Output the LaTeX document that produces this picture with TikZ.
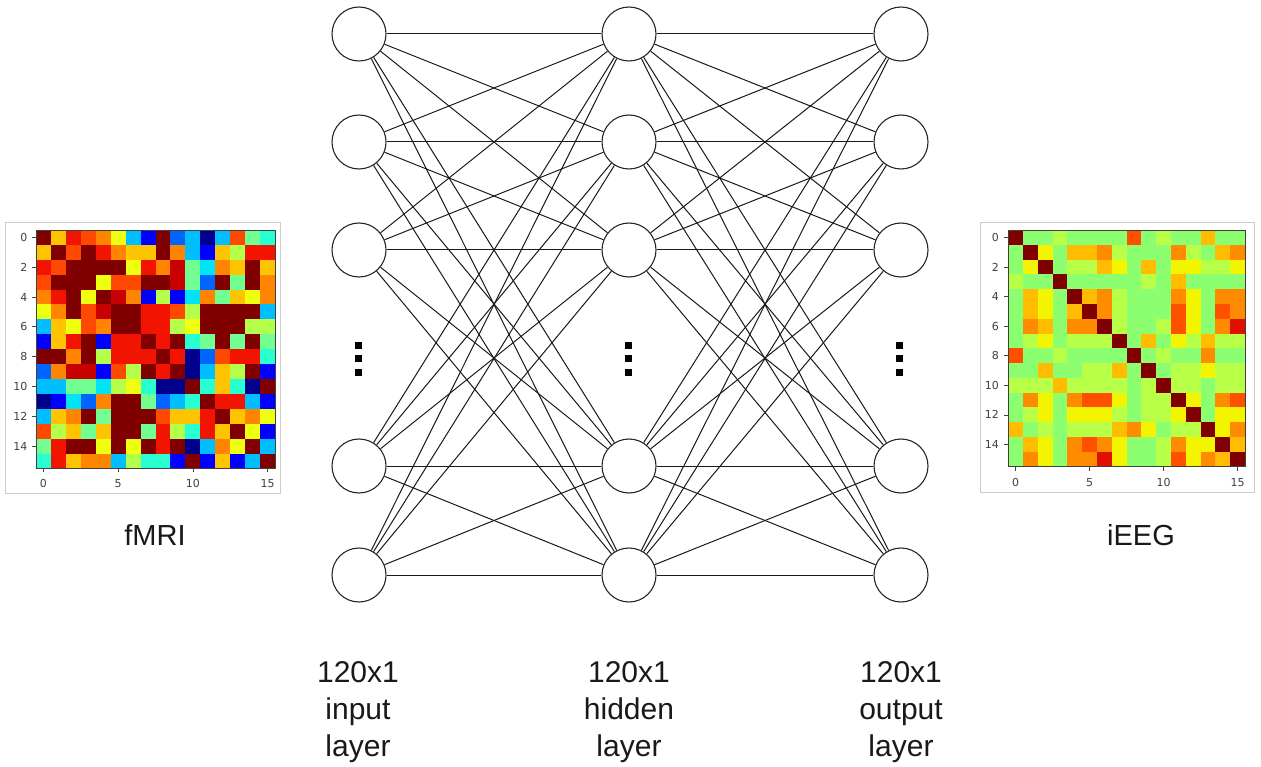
\documentclass[tikz,border=0pt]{standalone}
\usepackage{fontspec}
\setmainfont{Liberation Sans}
\newfontfamily\tickfont{DejaVu Sans}

% jet colour scale used for the fMRI map
\definecolor{fmN}{HTML}{00008F}
\definecolor{fmB}{HTML}{0000FF}
\definecolor{fmD}{HTML}{0064FF}
\definecolor{fmS}{HTML}{00BEFF}
\definecolor{fmC}{HTML}{00E4F8}
\definecolor{fmT}{HTML}{28FFD0}
\definecolor{fmA}{HTML}{70FF90}
\definecolor{fmG}{HTML}{B4FF4A}
\definecolor{fmY}{HTML}{EEFF10}
\definecolor{fmO}{HTML}{FFC400}
\definecolor{fmP}{HTML}{FF8400}
\definecolor{fmQ}{HTML}{FF4800}
\definecolor{fmR}{HTML}{F21400}
\definecolor{fmE}{HTML}{C80000}
\definecolor{fmK}{HTML}{800000}
% upper half of the same scale for the iEEG map
\definecolor{ieL}{HTML}{8CFF70}
\definecolor{ieG}{HTML}{B8FF48}
\definecolor{ieY}{HTML}{F2F400}
\definecolor{ieO}{HTML}{FFBC00}
\definecolor{ieP}{HTML}{FF8C00}
\definecolor{ieQ}{HTML}{FF5000}
\definecolor{ieR}{HTML}{E01000}
\definecolor{ieK}{HTML}{800000}

\tikzset{
  neuron/.style={circle, draw=black!85, line width=1.1pt, fill=white, minimum size=54pt, inner sep=0pt},
  link/.style={draw=black!90, line width=1pt},
  vdot/.style={rectangle, fill=black, minimum size=7pt, inner sep=0pt},
  panel/.style={draw=black!20, line width=1pt, fill=white},
  spine/.style={draw=black!75, line width=0.8pt},
  tickmark/.style={draw=black!75, line width=0.7pt},
  ticklabel/.style={font=\tickfont\fontsize{11}{13}\selectfont, text=black!75, inner sep=0pt},
  caption/.style={font=\fontsize{29}{35}\selectfont, text=black!90, inner sep=0pt, anchor=base},
  layerlabel/.style={font=\fontsize{30}{37}\selectfont, align=center, inner sep=0pt, text=black!90, anchor=north}
}

\begin{document}
\begin{tikzpicture}[x=1pt,y=-1pt]
\useasboundingbox[fill=white] (0,0) rectangle (1261,767);

% ---------- fMRI correlation matrix ----------
\draw[panel] (5.5,223) rectangle (280,493.5);
\foreach \rowcodes [count=\j from 0] in {
 {K,O,R,Q,P,Y,S,B,K,D,S,N,S,Q,A,T},
 {O,K,Q,K,R,P,O,O,K,P,S,B,O,G,R,R},
 {R,Q,K,K,K,K,Y,R,P,E,A,C,P,O,K,O},
 {Q,K,K,K,Y,Q,Q,K,K,E,A,D,K,A,K,P},
 {P,R,K,Y,K,E,P,B,G,B,C,P,A,O,Y,P},
 {Y,P,K,Q,E,K,K,R,R,Q,G,K,K,K,K,S},
 {S,O,Y,Q,P,K,K,R,R,G,Y,K,K,K,G,G},
 {B,O,R,K,B,R,R,K,R,K,T,A,K,A,K,A},
 {K,K,P,K,G,R,R,R,K,R,N,D,Q,R,R,T},
 {D,P,E,E,B,Q,G,K,R,K,N,S,O,G,K,B},
 {S,S,A,A,C,G,Y,T,N,N,K,T,O,T,N,K},
 {N,B,C,D,P,K,K,A,D,S,T,K,R,R,S,B},
 {S,O,P,K,A,K,K,K,Q,O,O,R,K,O,P,Y},
 {Q,G,O,A,O,K,K,A,R,G,T,R,O,K,Y,B},
 {A,R,K,K,Y,K,Y,K,R,K,N,S,P,Y,K,S},
 {T,R,O,P,P,S,G,T,T,B,K,B,O,B,S,K}}{%
  \foreach \c [count=\i from 0] in \rowcodes {
    \fill[fill=fm\c] ({36+\i*14.94},{230+\j*14.9}) rectangle ++(15.2,15.2);
  }
}
\draw[spine] (36,230) rectangle (275,468.4);
\foreach \j in {0,2,...,14} {
  \draw[tickmark] (36,{230+(\j+0.5)*14.9}) -- ++(-4,0);
  \node[ticklabel, anchor=east] (fmy\j) at (27.5,{230+(\j+0.5)*14.9}) {\j};
}
\foreach \i in {0,5,10,15} {
  \draw[tickmark] ({36+(\i+0.5)*14.94},468.4) -- ++(0,4);
  \node[ticklabel, anchor=north] (fmx\i) at ({36+(\i+0.5)*14.94},479) {\i};
}
\node[caption] (fmri) at (155,545) {fMRI};

% ---------- iEEG correlation matrix ----------
\draw[panel] (980,222.5) rectangle (1254,492.5);
\foreach \rowcodes [count=\j from 0] in {
 {K,L,L,G,L,L,L,L,Q,L,G,L,L,O,L,L},
 {L,K,Y,L,O,O,P,G,L,L,L,P,G,L,O,P},
 {L,Y,K,L,G,G,O,Y,L,O,L,Y,Y,G,G,Y},
 {G,L,L,K,L,L,L,L,L,G,L,O,L,L,L,L},
 {L,O,Y,L,K,O,P,G,L,L,L,P,Y,L,P,P},
 {L,O,Y,L,O,K,P,G,L,L,L,Q,Y,L,Q,P},
 {L,P,O,L,P,P,K,G,L,L,G,Q,Y,L,P,R},
 {L,G,Y,L,G,G,G,K,L,O,L,Y,G,O,G,G},
 {Q,L,L,G,L,L,L,L,K,L,G,L,L,P,L,L},
 {L,L,O,L,L,G,G,O,L,K,L,G,G,Y,G,G},
 {G,G,G,O,G,G,G,G,L,G,K,G,G,L,G,G},
 {L,P,Y,L,P,Q,Q,Y,L,G,G,K,Y,L,P,Q},
 {L,G,Y,L,Y,Y,Y,G,L,G,G,Y,K,L,Y,Y},
 {O,L,G,L,G,G,G,O,P,Y,L,G,G,K,Y,P},
 {L,O,Y,L,P,Q,P,Y,L,L,G,P,Y,Y,K,O},
 {L,P,Y,L,P,P,R,Y,L,L,G,Q,Y,P,O,K}}{%
  \foreach \c [count=\i from 0] in \rowcodes {
    \fill[fill=ie\c] ({1008.3+\i*14.79},{230+\j*14.79}) rectangle ++(15.05,15.05);
  }
}
\draw[spine] (1008.3,230) rectangle (1245,466.7);
\foreach \j in {0,2,...,14} {
  \draw[tickmark] (1008.3,{230+(\j+0.5)*14.79}) -- ++(-4,0);
  \node[ticklabel, anchor=east] (iey\j) at (999,{230+(\j+0.5)*14.79}) {\j};
}
\foreach \i in {0,5,10,15} {
  \draw[tickmark] ({1008.3+(\i+0.5)*14.79},466.7) -- ++(0,4);
  \node[ticklabel, anchor=north] (iex\i) at ({1008.3+(\i+0.5)*14.79},478) {\i};
}
\node[caption] (ieeg) at (1141,545) {iEEG};

% ---------- network ----------
\foreach \k/\y in {1/34,2/142,3/250,4/466,5/575} {
  \node[neuron] (in\k) at (359,\y) {};
  \node[neuron] (hd\k) at (629,\y) {};
  \node[neuron] (ot\k) at (901,\y) {};
}
\foreach \a in {1,...,5} {
  \foreach \b in {1,...,5} {
    \draw[link] (in\a) -- (hd\b);
    \draw[link] (hd\a) -- (ot\b);
  }
}
\foreach \y [count=\k] in {345,358.5,372} {
  \node[vdot] (din\k) at (358,\y) {};
  \node[vdot] (dhd\k) at (628,\y) {};
  \node[vdot] (dot\k) at (899.5,\y) {};
}

% ---------- layer captions ----------
\node[layerlabel] (inlabel) at (358,661.5) {120x1\\input\\layer};
\node[layerlabel] (hdlabel) at (629,661.5) {120x1\\hidden\\layer};
\node[layerlabel] (otlabel) at (901,661.5) {120x1\\output\\layer};
\end{tikzpicture}
\end{document}
